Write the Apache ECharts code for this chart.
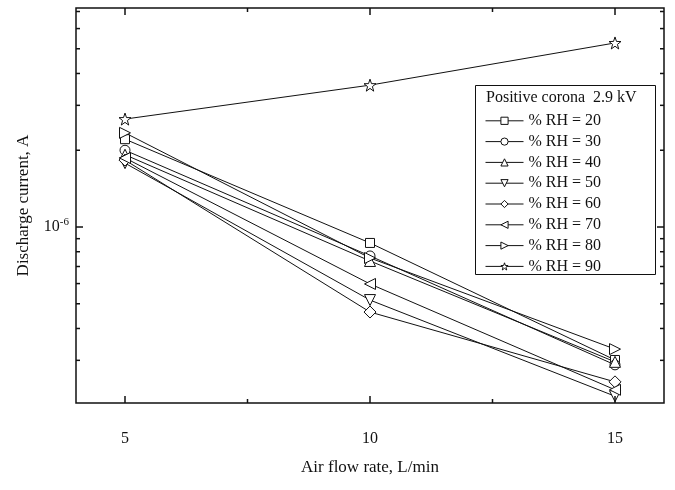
<!DOCTYPE html>
<html>
<head>
<meta charset="utf-8">
<script src="https://cdn.jsdelivr.net/npm/echarts@6/dist/echarts.min.js"></script>
<style>html,body{margin:0;padding:0;background:#fff}#c{width:675px;height:490px}</style>
</head>
<body>
<div id="c"></div>
<script>
// ---- data ----
const flowRates = [5, 10, 15];
const rh20 = [2.21e-6, 0.866e-6, 0.301e-6];
const rh30 = [2.00e-6, 0.770e-6, 0.288e-6];
const rh40 = [1.92e-6, 0.736e-6, 0.296e-6];
const rh50 = [1.78e-6, 0.517e-6, 0.217e-6];
const rh60 = [1.83e-6, 0.464e-6, 0.247e-6];
const rh70 = [1.865e-6, 0.598e-6, 0.230e-6];
const rh80 = [2.34e-6, 0.756e-6, 0.332e-6];
const rh90 = [2.65e-6, 3.60e-6, 5.27e-6];
const seriesNames = ['% RH = 20','% RH = 30','% RH = 40','% RH = 50','% RH = 60','% RH = 70','% RH = 80','% RH = 90'];
const xTickMajor = [5, 10, 15];
const xTickMinor = [7.5, 12.5];
const yTickMajor = [1e-6];
const yTickMinor = [3e-7,4e-7,5e-7,6e-7,7e-7,8e-7,9e-7,2e-6,3e-6,4e-6,5e-6,6e-6,7e-6];
const X_MIN = 4, X_MAX = 16;
const Y_MIN = 0.2041e-6, Y_MAX = 7.225e-6;

const FONT = 'Liberation Serif';
const STAR = 'path://M0,-10 L2.35,-3.24 L9.51,-3.09 L3.8,1.24 L5.88,8.09 L0,4 L-5.88,8.09 L-3.8,1.24 L-9.51,-3.09 L-2.35,-3.24 Z';

const values = [rh20, rh30, rh40, rh50, rh60, rh70, rh80, rh90];
const symbols = [
  {s:'rect', size:9, rot:0},
  {s:'circle', size:10, rot:0},
  {s:'triangle', size:11, rot:0},
  {s:'triangle', size:11, rot:180},
  {s:'diamond', size:12, rot:0},
  {s:'triangle', size:11, rot:90},
  {s:'triangle', size:11, rot:-90},
  {s:STAR, size:12, rot:0}
];

const lineSeries = values.map((v, i) => ({
  name: seriesNames[i],
  type: 'line',
  data: flowRates.map((x, j) => [x, v[j]]),
  symbol: symbols[i].s,
  symbolSize: symbols[i].size,
  symbolRotate: symbols[i].rot,
  showAllSymbol: true,
  lineStyle: {color: '#111', width: 1},
  itemStyle: {color: '#fff', borderColor: '#111', borderWidth: 1},
  z: 2,
  animation: false
}));

const tickData = [];
yTickMajor.forEach(v => tickData.push([X_MIN, v, 0]));
yTickMinor.forEach(v => tickData.push([X_MIN, v, 1]));
xTickMajor.forEach(v => tickData.push([v, Y_MIN, 2]));
xTickMinor.forEach(v => tickData.push([v, Y_MIN, 3]));

const tickSeries = {
  type: 'custom',
  data: tickData,
  silent: true,
  animation: false,
  z: 3,
  renderItem: function (params, api) {
    const k = api.value(2);
    const st = {stroke: '#111', lineWidth: 1.5};
    if (k < 2) {
      const y = api.value(1);
      const p = api.coord([X_MIN, y]);
      const q = api.coord([X_MAX, y]);
      const len = k === 0 ? 7 : 4;
      return {type: 'group', children: [
        {type: 'line', shape: {x1: p[0], y1: p[1], x2: p[0] + len, y2: p[1]}, style: st},
        {type: 'line', shape: {x1: q[0] - len, y1: q[1], x2: q[0], y2: q[1]}, style: st}
      ]};
    } else {
      const x = api.value(0);
      const p = api.coord([x, Y_MIN]);
      const q = api.coord([x, Y_MAX]);
      const len = k === 2 ? 7 : 4;
      return {type: 'group', children: [
        {type: 'line', shape: {x1: p[0], y1: p[1], x2: p[0], y2: p[1] - len}, style: st},
        {type: 'line', shape: {x1: q[0], y1: q[1], x2: q[0], y2: q[1] + len}, style: st}
      ]};
    }
  }
};

const chart = echarts.init(document.getElementById('c'), null, {renderer: 'canvas'});
chart.setOption({
  animation: false,
  backgroundColor: '#fff',
  grid: {left: 76, right: 11, top: 8, bottom: 87, show: true, borderColor: '#111', borderWidth: 1.5, backgroundColor: 'transparent'},
  xAxis: {
    type: 'value', min: X_MIN, max: X_MAX, interval: 1,
    axisLine: {show: false}, axisTick: {show: false}, splitLine: {show: false},
    axisLabel: {
      margin: 28, color: '#111', fontFamily: FONT, fontSize: 16,
      formatter: v => (xTickMajor.indexOf(v) >= 0 ? String(v) : '')
    },
    name: 'Air flow rate, L/min', nameLocation: 'middle', nameGap: 56,
    nameTextStyle: {color: '#111', fontFamily: FONT, fontSize: 17}
  },
  yAxis: {
    type: 'log', logBase: 10, min: Y_MIN, max: Y_MAX,
    axisLine: {show: false}, axisTick: {show: false}, splitLine: {show: false}, minorTick: {show: false},
    axisLabel: {
      margin: 7, color: '#111', fontFamily: FONT,
      formatter: v => (Math.abs(Math.log10(v) + 6) < 1e-3 ? '{a|10}{b|-6}' : ''),
      rich: {
        a: {fontSize: 16, lineHeight: 20, fontFamily: FONT, color: '#111'},
        b: {fontSize: 11, lineHeight: 11, verticalAlign: 'top', fontFamily: FONT, color: '#111'}
      }
    },
    name: 'Discharge current, A', nameLocation: 'middle', nameGap: 44,
    nameTextStyle: {color: '#111', fontFamily: FONT, fontSize: 17}
  },
  legend: {
    data: seriesNames,
    orient: 'vertical',
    left: 480, top: 107,
    itemWidth: 38, itemHeight: 9, itemGap: 3.2,
    textStyle: {fontFamily: FONT, fontSize: 16, color: '#111', lineHeight: 17.6},
    lineStyle: {width: 1, color: '#111'},
    itemStyle: {color: '#fff', borderColor: '#111', borderWidth: 1},
    z: 6
  },
  graphic: [
    {type: 'rect', left: 475, top: 85, z: 5, shape: {width: 180, height: 189}, style: {fill: '#fff', stroke: '#111', lineWidth: 1}},
    {type: 'text', left: 486, top: 90, z: 7, style: {text: 'Positive corona  2.9 kV', font: '16px "Liberation Serif"', fill: '#111'}}
  ],
  series: lineSeries.concat([tickSeries])
});
</script>
</body>
</html>
